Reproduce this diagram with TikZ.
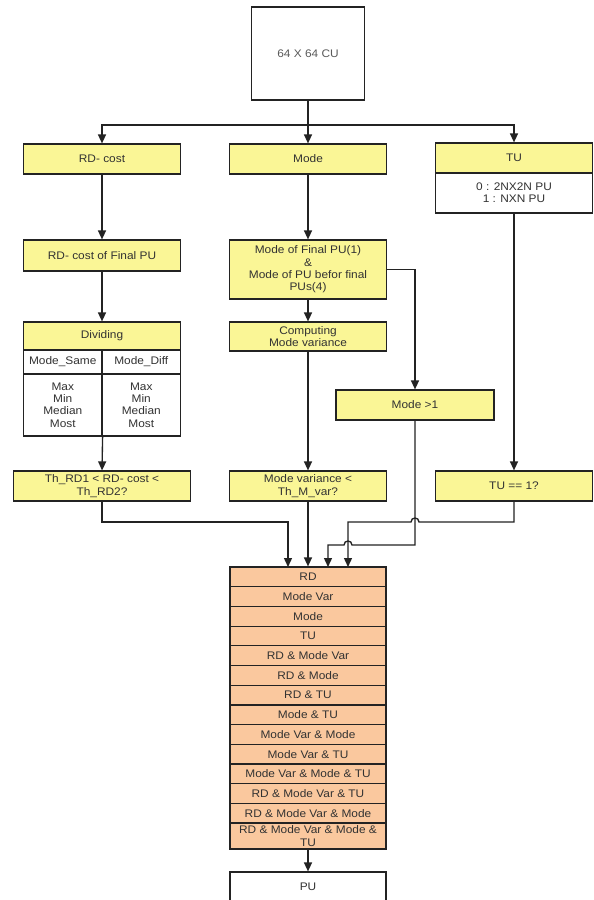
\documentclass[tikz,border=0pt]{standalone}
\usepackage{fontspec}
\setmainfont{Liberation Sans}[FakeStretch=1.08]
\usetikzlibrary{arrows.meta}
\definecolor{yfill}{RGB}{250,246,150}
\definecolor{ofill}{RGB}{250,200,158}
\definecolor{lin}{RGB}{35,35,35}
\definecolor{txt}{RGB}{50,50,50}
\definecolor{cutxt}{RGB}{90,90,90}
\begin{document}
\begin{tikzpicture}[x=1bp,y=-1bp,
  every node/.style={inner sep=0pt, align=center, text=txt, font=\fontsize{11bp}{12.3bp}\selectfont},
  boxbase/.style={draw=lin, line width=1.2bp},
  ybox/.style={boxbase, fill=yfill, minimum width=157bp, minimum height=30bp},
  wbox/.style={boxbase, fill=white},
  obox/.style={boxbase, fill=ofill, minimum width=156bp, minimum height=19.7bp},
  conn/.style={draw=lin, line width=1.35bp},
  arr/.style={conn, -{Triangle[length=9bp,width=8bp]}},
]
\useasboundingbox (0,0) rectangle (594,900);
\fill[white] (0,0) rectangle (594,900);

% top
\node[wbox, minimum width=113bp, minimum height=93bp, text=cutxt] (cu) at (308,53.5) {64 X 64 CU};

% first row
\node[ybox] (rd) at (102,159) {RD- cost};
\node[ybox] (mode) at (308,159) {Mode};
\node[ybox] (tuh) at (514,158) {TU};
\node[wbox, minimum width=157bp, minimum height=40bp] (tub) at (514,193) {0 : 2NX2N PU\\1 : NXN PU};

% second row
\node[ybox, minimum height=31bp] (rdf) at (102,255.5) {RD- cost of Final PU};
\node[ybox, minimum height=59bp] (mf) at (308,269.5) {Mode of Final PU(1)\\\&\\Mode of PU befor final\\PUs(4)};

% third row
\node[ybox, minimum height=29bp] (cmv) at (308,336.5) {Computing\\Mode variance};
\node[ybox, minimum height=28bp] (divh) at (102,336) {Dividing};
\node[wbox, minimum width=78.5bp, minimum height=24bp] (dsame) at (62.75,362) {Mode\_Same};
\node[wbox, minimum width=78.5bp, minimum height=24bp] (ddiff) at (141.25,362) {Mode\_Diff};
\node[wbox, minimum width=78.5bp, minimum height=62bp] (dsl) at (62.75,405) {Max\\Min\\Median\\Most};
\node[wbox, minimum width=78.5bp, minimum height=62bp] (dsr) at (141.25,405) {Max\\Min\\Median\\Most};

\node[ybox, minimum width=158bp] (m1) at (415,405) {Mode \textgreater1};

% decisions
\node[ybox, minimum width=177bp] (th) at (102,486) {Th\_RD1 \textless{} RD- cost \textless\\Th\_RD2?};
\node[ybox] (mv) at (308,486) {Mode variance \textless\\Th\_M\_var?};
\node[ybox] (tu1) at (514,486) {TU == 1?};

% orange list
\foreach \t [count=\i] in {RD, Mode Var, Mode, TU, RD \& Mode Var, RD \& Mode, RD \& TU, Mode \& TU, Mode Var \& Mode, Mode Var \& TU, Mode Var \& Mode \& TU, RD \& Mode Var \& TU, RD \& Mode Var \& Mode}
  \node[obox] (o\i) at (308,{567+(\i-0.5)*19.7}) {\t};
\node[obox, minimum height=25.9bp] (o14) at (308,836) {RD \& Mode Var \& Mode \&\\TU};

\node[wbox, minimum width=156bp, minimum height=30bp] (pu) at (308,887) {PU};

% helper coordinates
\coordinate (j) at (308,125);
\coordinate (h1) at (0,522);
\coordinate (h2) at (0,545);
\coordinate (in1) at (288,567);
\coordinate (in3) at (328,567);
\coordinate (in4) at (348,567);

% connectors
\draw[conn] (cu.south) -- (j);
\draw[arr] (j) -| (rd.north);
\draw[arr] (j) -- (mode.north);
\draw[arr] (j) -| (tuh.north);

\draw[arr] (rd.south) -- (rdf.north);
\draw[arr] (rdf.south) -- (divh.north);
\draw[arr] (mode.south) -- (mf.north);
\draw[arr] (mf.south) -- (cmv.north);
\draw[arr] (mf.east) -| (m1.north);
\draw[arr] (tub.south) -- (tu1.north);
\draw[arr] (dsl.south east) -- (th.north);
\draw[arr] (cmv.south) -- (mv.north);

\draw[arr] (th.south) |- (in1 |- h1) -- (in1);
\draw[arr] (mv.south) -- (o1.north);
\draw[arr] (m1.south) -- (m1.south |- h2) -- (352,545) .. controls (352,539.7) and (344,539.7) .. (344,545) -- (in3 |- h2) -- (in3);
\draw[arr] (tu1.south) -- (tu1.south |- h1) -- (419,522) .. controls (419,516.7) and (411,516.7) .. (411,522) -- (in4 |- h1) -- (in4);

\draw[arr] (o14.south) -- (pu.north);
\end{tikzpicture}
\end{document}
